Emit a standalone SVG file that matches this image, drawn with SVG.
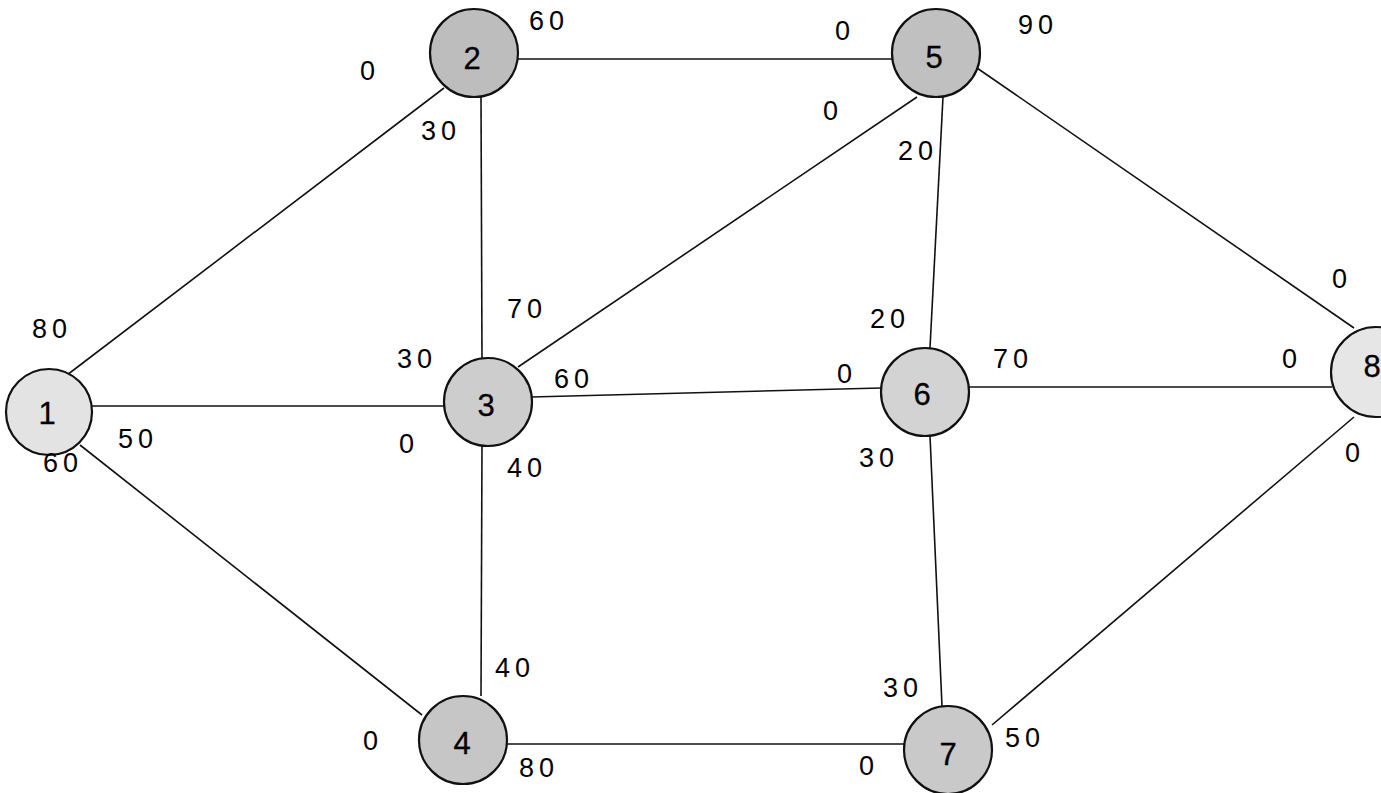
<svg xmlns="http://www.w3.org/2000/svg" width="1381" height="793" viewBox="0 0 1381 793">
<style>
.e{stroke:#111;stroke-width:1.6;fill:none}
.n{stroke:#111;stroke-width:2.2}
.nl{font-family:"Liberation Sans",Arial,sans-serif;font-size:31px;fill:#000;stroke:#000;stroke-width:0.3;text-anchor:middle}
.l{font-family:"Liberation Sans",Arial,sans-serif;font-size:27px;fill:#000;text-anchor:middle;letter-spacing:5px}
</style>
<rect width="1381" height="793" fill="#fff"/>
<g id="connectors">
<line class="e" x1="67" y1="375" x2="444" y2="88"/>
<line class="e" x1="92" y1="406" x2="445" y2="406"/>
<line class="e" x1="80" y1="445" x2="422" y2="715"/>
<line class="e" x1="481" y1="97" x2="482" y2="358"/>
<line class="e" x1="518" y1="59" x2="893" y2="59"/>
<line class="e" x1="518" y1="367" x2="917" y2="97"/>
<line class="e" x1="531" y1="397" x2="881" y2="388"/>
<line class="e" x1="482" y1="446" x2="481" y2="696"/>
<line class="e" x1="943" y1="97" x2="930" y2="348"/>
<line class="e" x1="977" y1="68" x2="1354" y2="328"/>
<line class="e" x1="968" y1="387" x2="1332" y2="387"/>
<line class="e" x1="930" y1="436" x2="942" y2="706"/>
<line class="e" x1="492" y1="744" x2="905" y2="744"/>
<line class="e" x1="992" y1="725" x2="1354" y2="417"/>
</g>
<g id="node1"><circle class="n" cx="49" cy="412" r="43" fill="#e3e3e3"/><text class="nl" x="47" y="424">1</text></g>
<g id="node2"><circle class="n" cx="474" cy="53" r="44" fill="#bdbdbd"/><text class="nl" x="472" y="69">2</text></g>
<g id="node3"><circle class="n" cx="488" cy="402" r="44" fill="#cdcdcd"/><text class="nl" x="486" y="416">3</text></g>
<g id="node4"><circle class="n" cx="463" cy="740" r="44" fill="#c6c6c6"/><text class="nl" x="462" y="754">4</text></g>
<g id="node5"><circle class="n" cx="936" cy="53" r="44" fill="#c0c0c0"/><text class="nl" x="934" y="68">5</text></g>
<g id="node6"><circle class="n" cx="925" cy="392" r="44" fill="#d3d3d3"/><text class="nl" x="922" y="405">6</text></g>
<g id="node7"><circle class="n" cx="948" cy="750" r="44" fill="#c9c9c9"/><text class="nl" x="948" y="765">7</text></g>
<g id="node8"><circle class="n" cx="1376" cy="372" r="45" fill="#e6e6e6"/><text class="nl" x="1372" y="377">8</text></g>
<g id="labels">
<text class="l" x="370" y="80">0</text>
<text class="l" x="549" y="30">60</text>
<text class="l" x="441" y="140">30</text>
<text class="l" x="845" y="40">0</text>
<text class="l" x="1038" y="34">90</text>
<text class="l" x="833" y="120">0</text>
<text class="l" x="918" y="160">20</text>
<text class="l" x="52" y="338">80</text>
<text class="l" x="527" y="318">70</text>
<text class="l" x="417" y="368">30</text>
<text class="l" x="574" y="388">60</text>
<text class="l" x="138" y="448">50</text>
<text class="l" x="409" y="453">0</text>
<text class="l" x="527" y="477">40</text>
<text class="l" x="63" y="472">60</text>
<text class="l" x="890" y="328">20</text>
<text class="l" x="847" y="383">0</text>
<text class="l" x="1013" y="368">70</text>
<text class="l" x="1292" y="368">0</text>
<text class="l" x="1342" y="288">0</text>
<text class="l" x="1355" y="462">0</text>
<text class="l" x="879" y="467">30</text>
<text class="l" x="515" y="677">40</text>
<text class="l" x="373" y="750">0</text>
<text class="l" x="539" y="777">80</text>
<text class="l" x="869" y="775">0</text>
<text class="l" x="903" y="697">30</text>
<text class="l" x="1025" y="747">50</text>
</g>
</svg>
